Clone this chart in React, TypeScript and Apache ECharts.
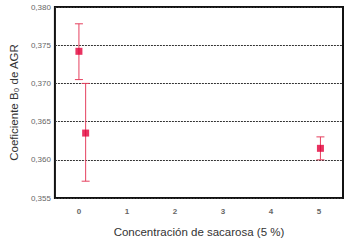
import React, { useEffect, useRef } from "react";
import * as echarts from "echarts";

const xCategories = ["0", "1", "2", "3", "4", "5"];
const xPositions = [0, 0.14, 5.03];
const means = [0.3742, 0.3635, 0.3615];
const lowers = [0.3705, 0.3572, 0.36];
const uppers = [0.3778, 0.37, 0.363];
const yTicks = { min: 0.355, max: 0.38, interval: 0.005 };

export default function App() {
  const ref = useRef<HTMLDivElement>(null);
  useEffect(() => {
    const chart = echarts.init(ref.current!, null, { renderer: "svg" });
    const font = "Liberation Sans";
    const errData = xPositions.map((x, i) => [x, lowers[i], uppers[i]]);
    const ptData = xPositions.map((x, i) => [x, means[i]]);
    chart.setOption({
      animation: false,
      grid: {
        left: 41,
        right: 8,
        top: 7,
        bottom: 42,
        show: true,
        borderColor: "#111",
        borderWidth: 2,
        backgroundColor: "#fff",
      },
      xAxis: [
        {
          type: "category",
          data: xCategories,
          boundaryGap: true,
          axisLine: { show: false },
          axisTick: { show: false },
          axisLabel: {
            color: "#666",
            fontSize: 8,
            fontWeight: "bold",
            fontFamily: font,
            margin: 9,
          },
          name: "Concentración de sacarosa (5 %)",
          nameLocation: "middle",
          nameGap: 28,
          nameTextStyle: { color: "#333", fontSize: 11.5, fontFamily: font },
        },
        {
          type: "value",
          min: -0.5,
          max: 5.5,
          show: false,
        },
      ],
      yAxis: {
        type: "value",
        min: yTicks.min,
        max: yTicks.max,
        interval: yTicks.interval,
        axisLine: { show: false },
        axisTick: { show: false },
        axisLabel: {
          color: "#666",
          fontSize: 8,
          fontFamily: font,
          margin: 4,
          formatter: (v: number) => v.toFixed(3).replace(".", ","),
        },
        splitLine: {
          show: true,
          lineStyle: { color: "#333", type: [2, 1], width: 1 },
        },
        name: "Coeficiente B₀ de AGR",
        nameLocation: "middle",
        nameGap: 30,
        nameRotate: 90,
        nameTextStyle: { color: "#333", fontSize: 11.5, fontFamily: font },
      },
      series: [
        {
          type: "custom",
          xAxisIndex: 1,
          data: errData,
          renderItem: (params: any, api: any) => {
            const x = api.value(0);
            const lo = api.coord([x, api.value(1)]);
            const hi = api.coord([x, api.value(2)]);
            const w = 4;
            const style = { stroke: "#e5405f", lineWidth: 1 };
            return {
              type: "group",
              children: [
                { type: "line", shape: { x1: lo[0], y1: lo[1], x2: hi[0], y2: hi[1] }, style },
                { type: "line", shape: { x1: lo[0] - w, y1: lo[1], x2: lo[0] + w, y2: lo[1] }, style },
                { type: "line", shape: { x1: hi[0] - w, y1: hi[1], x2: hi[0] + w, y2: hi[1] }, style },
              ],
            };
          },
          z: 3,
        },
        {
          type: "scatter",
          xAxisIndex: 1,
          data: ptData,
          symbol: "rect",
          symbolSize: 7,
          itemStyle: { color: "#e2003a" },
          z: 4,
        },
      ],
    });
    return () => chart.dispose();
  }, []);
  return (
    <div
      ref={ref}
      style={{ position: "absolute", left: 0, top: 0, width: 351, height: 243 }}
    />
  );
}
